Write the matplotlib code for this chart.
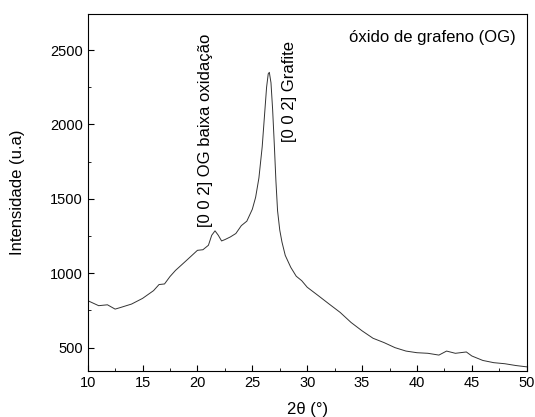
import numpy as np
import matplotlib.pyplot as plt
from matplotlib.ticker import MultipleLocator

plt.rcParams['font.family'] = ['Liberation Sans', 'DejaVu Sans']

# 2theta (degrees) and intensity
two_theta = [10, 11, 11.8, 12.5, 13, 14, 15, 16, 16.5, 17, 17.5, 18, 19, 20, 20.5,
             21, 21.3, 21.6, 21.9, 22.2, 22.5, 23, 23.5, 24, 24.5, 25, 25.3, 25.6,
             25.9, 26.1, 26.3, 26.45, 26.55, 26.7, 26.85, 27, 27.15, 27.3, 27.5, 27.7,
             28, 28.5, 29, 29.5, 30, 31, 32, 33, 34, 35, 36, 37, 38, 39, 40, 41, 42,
             42.7, 43.5, 44.5, 45, 46, 47, 48, 49, 50]
intensity = [816, 782, 788, 759, 770, 793, 831, 883, 924, 928, 978, 1019, 1086, 1154, 1158,
             1188, 1255, 1285, 1255, 1217, 1226, 1244, 1267, 1320, 1350, 1430, 1510, 1640,
             1850, 2050, 2250, 2340, 2350, 2280, 2100, 1870, 1620, 1420, 1290, 1210,
             1120, 1040, 980, 950, 906, 850, 793, 737, 669, 613, 563, 534, 500, 477, 466, 462, 450,
             477, 462, 471, 444, 414, 399, 392, 380, 371]

fig = plt.figure(figsize=(5.35, 4.17), dpi=100)
ax = fig.add_axes([0.1639, 0.111, 0.8206, 0.8547])

ax.plot(two_theta, intensity, color='#333333', lw=0.7)

ax.set_xlim(10, 50)
ax.set_ylim(345, 2740)
ax.xaxis.set_major_locator(MultipleLocator(5))
ax.xaxis.set_minor_locator(MultipleLocator(2.5))
ax.yaxis.set_major_locator(MultipleLocator(500))
ax.yaxis.set_minor_locator(MultipleLocator(250))
ax.tick_params(which='both', direction='in', top=False, right=False, labelsize=10.5)
ax.tick_params(which='major', length=4)
ax.tick_params(which='minor', length=2.5)

ax.set_xlabel('2θ (°)', fontsize=12, labelpad=9)
ax.set_ylabel('Intensidade (u.a)', fontsize=12, labelpad=18)

ax.text(20.7, 1310, '[0 0 2] OG baixa oxidação', rotation=90, ha='center', va='bottom', fontsize=12)
ax.text(28.4, 1880, '[0 0 2] Grafite', rotation=90, ha='center', va='bottom', fontsize=12)
ax.text(0.975, 0.955, 'óxido de grafeno (OG)', transform=ax.transAxes, ha='right', va='top', fontsize=12)

fig.savefig('out.png', dpi=100)
